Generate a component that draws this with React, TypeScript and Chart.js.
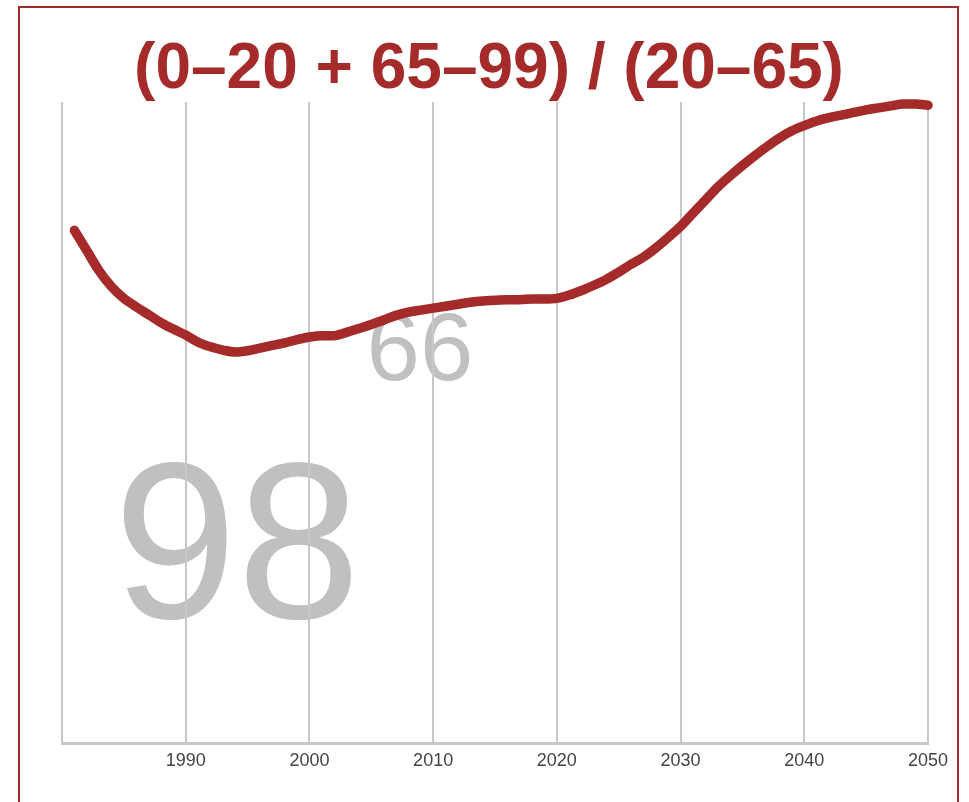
import React, { useEffect, useRef } from "react";
import { Chart, registerables } from "chart.js";

Chart.register(...registerables);

const years: number[] = [];
for (let y = 1981; y <= 2050; y++) years.push(y);

const ratio: number[] = [
  78.4, 75.3, 72.2, 69.8, 68.0, 66.7, 65.5, 64.3, 63.3, 62.4, // 1981-1990
  61.3, 60.6, 60.1, 59.8, 60.0, 60.4, 60.8, 61.2, 61.7, 62.1, // 1991-2000
  62.3, 62.3, 62.8, 63.4, 64.0, 64.7, 65.4, 65.9, 66.2, 66.5, // 2001-2010
  66.8, 67.1, 67.4, 67.6, 67.7, 67.8, 67.8, 67.9, 67.9, 68.0, // 2011-2020
  68.5, 69.2, 70.0, 70.9, 72.0, 73.2, 74.3, 75.7, 77.3, 79.0, // 2021-2030
  81.0, 83.0, 85.0, 86.7, 88.3, 89.8, 91.2, 92.5, 93.6, 94.4, // 2031-2040
  95.1, 95.6, 96.0, 96.4, 96.8, 97.1, 97.4, 97.7, 97.7, 97.5, // 2041-2050
];

const xTicks: number[] = [1980, 1990, 2000, 2010, 2020, 2030, 2040, 2050];
const titleText = "(0–20 + 65–99) / (20–65)";
const bigLabel = "98";
const midLabel = "66";

const RED = "rgb(165,42,42)";
const GRID = "rgb(200,200,200)";
const FONT = "'Liberation Sans', Arial, Helvetica, sans-serif";

const bgText = {
  id: "bgText",
  beforeDraw(chart: any) {
    const { ctx, chartArea } = chart;
    ctx.save();
    ctx.textAlign = "center";
    ctx.textBaseline = "alphabetic";
    ctx.fillStyle = "rgb(192,192,192)";
    ctx.font = `222px ${FONT}`;
    ctx.fillText(bigLabel, chartArea.left + 175, chartArea.top + 516);
    ctx.font = `96px ${FONT}`;
    ctx.fillText(midLabel, chartArea.left + 358, chartArea.top + 278);
    ctx.fillStyle = RED;
    ctx.font = `bold 64px ${FONT}`;
    ctx.fillText(titleText, 489, 87.5);
    ctx.restore();
  },
};

export default function App() {
  const ref = useRef<HTMLCanvasElement | null>(null);

  useEffect(() => {
    if (!ref.current) return;
    const chart = new Chart(ref.current, {
      type: "line",
      data: {
        labels: years,
        datasets: [
          {
            data: years.map((y, i) => ({ x: y, y: ratio[i] })),
            borderColor: RED,
            borderWidth: 9.5,
            borderCapStyle: "round",
            borderJoinStyle: "round",
            pointRadius: 0,
            cubicInterpolationMode: "monotone",
            fill: false,
            clip: false,
          },
        ],
      },
      options: {
        animation: false,
        responsive: false,
        maintainAspectRatio: false,
        layout: { padding: { left: 62, right: 41, top: 102, bottom: 23 } },
        plugins: {
          legend: { display: false },
          tooltip: { enabled: false },
          title: { display: false },
        },
        scales: {
          x: {
            type: "linear",
            min: 1980,
            max: 2050,
            afterBuildTicks: (axis: any) => {
              axis.ticks = xTicks.map((v) => ({ value: v }));
            },
            ticks: {
              color: "#444",
              font: { family: FONT, size: 18 },
              padding: 7,
              maxRotation: 0,
              autoSkip: false,
              callback: (v: any) => (v === 1980 ? "" : String(v)),
            },
            grid: {
              color: GRID,
              lineWidth: 2,
              drawTicks: false,
            },
            border: { color: GRID, width: 3 },
          },
          y: {
            display: false,
            min: 0,
            max: 98,
          },
        },
      },
      plugins: [bgText],
    });
    return () => chart.destroy();
  }, []);

  return (
    <div style={{ position: "absolute", left: 0, top: 0, width: 969, height: 802, overflow: "hidden", background: "#fff" }}>
      <div
        style={{
          position: "absolute",
          left: 18,
          top: 6,
          width: 937,
          height: 830,
          border: `2px solid ${RED}`,
        }}
      />
      <canvas ref={ref} width={969} height={802} style={{ position: "absolute", left: 0, top: 0 }} />
    </div>
  );
}
